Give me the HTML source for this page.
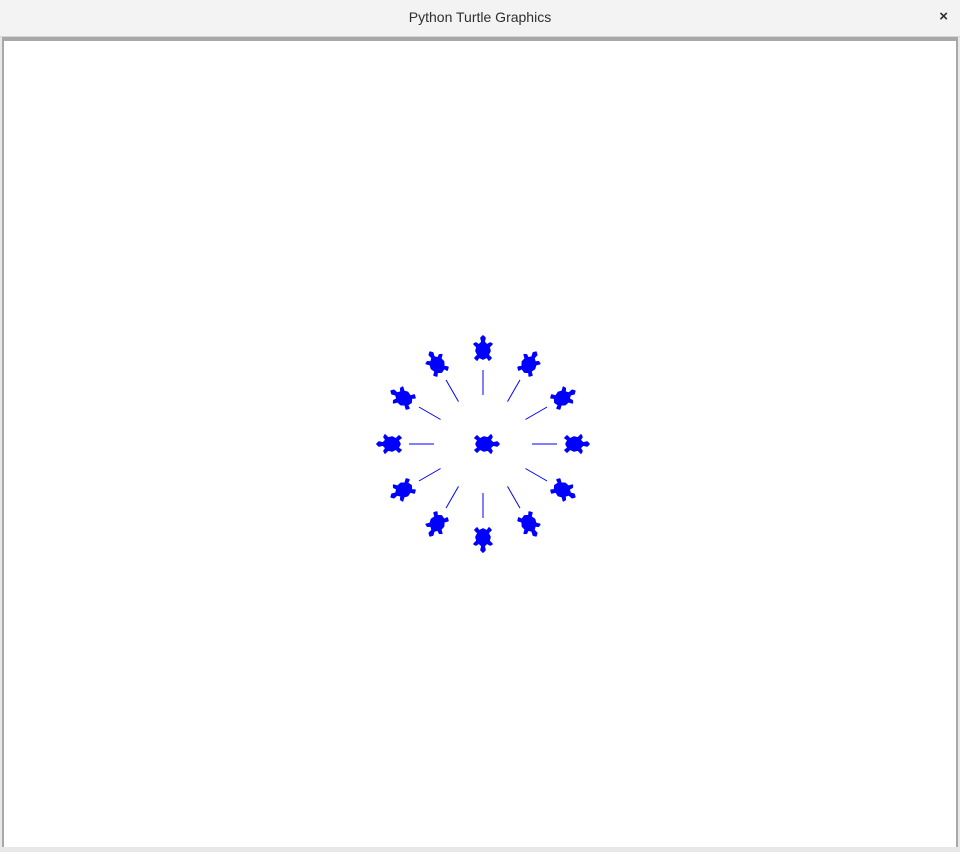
<!DOCTYPE html>
<html><head><meta charset="utf-8"><style>
html,body{margin:0;padding:0;width:960px;height:847px;overflow:hidden;background:#e8e8e8;font-family:"Liberation Sans",sans-serif}
#titlebar{position:absolute;left:0;top:0;width:960px;height:36px;background:#f3f3f3;border-bottom:1px solid #d6d6d6}
#title{position:absolute;left:0;width:960px;top:9px;text-align:center;font-size:14px;color:#2e2e2e}
#close{position:absolute;right:12px;top:8px;font-size:15px;font-weight:bold;color:#2e2e2e}
#frame{position:absolute;left:2px;top:37px;width:956px;height:810px;background:#a8a8a8}
#canvas{position:absolute;left:4px;top:41px;width:952px;height:806px;background:#fff}
</style></head><body>
<div id="titlebar"><div id="title">Python Turtle Graphics</div><div id="close">×</div></div>
<div id="frame"></div>
<div id="canvas">
<svg id="svg" width="952" height="806"></svg>
</div>
<script>
const headings=[0,30,60,90,120,150,180,210,240,270,300,330];
const turtleRadius=[90,90,90,92,90,90,90,90,90,92,90,90];
const lineStart=[49,49,49,49,49,49,49,49,49,49,49,49];
const lineEnd=[74,74,74,74,74,74,74,74,74,74,74,74];
const cx=479, cy=403;
const shape=[[0,16],[-2,14],[-1,10],[-4,7],[-7,9],[-9,8],[-6,5],[-7,1],[-5,-3],[-8,-6],[-6,-8],[-4,-5],[0,-7],[4,-5],[6,-8],[8,-6],[5,-3],[7,1],[6,5],[9,8],[7,9],[4,7],[1,10],[2,14]];
const pts=shape.map(p=>p[0]+','+(-p[1])).join(' ');
const svg=document.getElementById('svg');
const NS='http://www.w3.org/2000/svg';
function turtle(x,y,h){
  const g=document.createElementNS(NS,'polygon');
  
  
  g.setAttribute('points',pts);
  g.setAttribute('fill','#0000ff');
  g.setAttribute('stroke','#0000ff');
  g.setAttribute('stroke-width','1.6');
  g.setAttribute('stroke-linejoin','round');
  g.setAttribute('transform',`translate(${x},${y}) rotate(${90-h})`);
  svg.appendChild(g);
}
headings.forEach((h,i)=>{
  const a=h*Math.PI/180, dx=Math.cos(a), dy=-Math.sin(a);
  const l=document.createElementNS(NS,'line');
  
  
  l.setAttribute('x1',cx+dx*lineStart[i]);l.setAttribute('y1',cy+dy*lineStart[i]);
  l.setAttribute('x2',cx+dx*lineEnd[i]);l.setAttribute('y2',cy+dy*lineEnd[i]);
  l.setAttribute('stroke','#0000ff');l.setAttribute('stroke-width','1');
  svg.appendChild(l);
  turtle(cx+dx*turtleRadius[i],cy+dy*turtleRadius[i],h);
});
turtle(cx,cy,0);
</script>
</body></html>
